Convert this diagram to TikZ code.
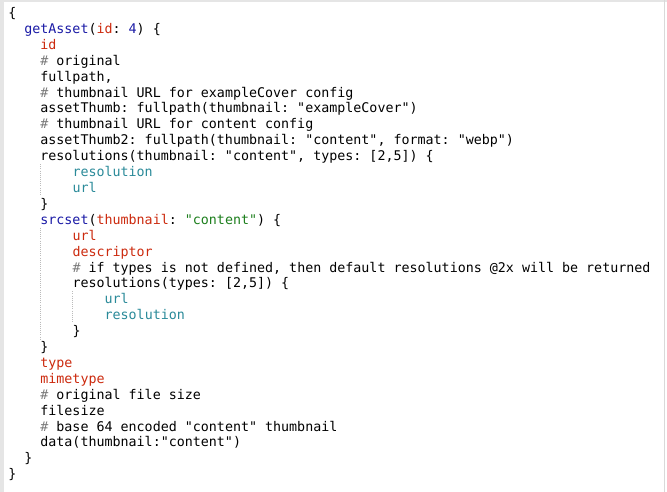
\documentclass[tikz,border=0pt]{standalone}
\usepackage{fontspec}
\setmonofont{DejaVu Sans Mono}
\definecolor{kb}{HTML}{1A1AA6}
\definecolor{kr}{HTML}{CC2A0E}
\definecolor{kt}{HTML}{2A8A99}
\definecolor{kg}{HTML}{1D7F1D}
\definecolor{kc}{HTML}{7A7A7A}
\definecolor{guide}{HTML}{BBBBBB}
\newcommand{\cB}[1]{\textcolor{kb}{#1}}
\newcommand{\cR}[1]{\textcolor{kr}{#1}}
\newcommand{\cT}[1]{\textcolor{kt}{#1}}
\newcommand{\cG}[1]{\textcolor{kg}{#1}}
\newcommand{\cH}{\textcolor{kc}{\#}}
\begin{document}
\begin{tikzpicture}[x=0.75pt,y=-0.75pt,
  code/.style={anchor=base west,inner sep=0pt,font=\ttfamily\fontsize{10pt}{12pt}\selectfont},
  gl/.style={guide,densely dotted,line width=0.6pt}]
\useasboundingbox (0,0) rectangle (667,492);
\fill[white] (0,0) rectangle (667,492);
\fill[black!10] (0,0) rectangle (4,492);
\fill[black!10] (0,0) rectangle (667,2);
\draw[black!15] (664,0) -- (664,492);
\foreach \i/\ind/\txt in {
1/0/{\{},
2/2/{\cB{getAsset}(\cR{id}: \cB{4}) \{},
3/4/{\cR{id}},
4/4/{\cH{} original},
5/4/{fullpath,},
6/4/{\cH{} thumbnail URL for exampleCover config},
7/4/{assetThumb: fullpath(thumbnail: "exampleCover")},
8/4/{\cH{} thumbnail URL for content config},
9/4/{assetThumb2: fullpath(thumbnail: "content", format: "webp")},
10/4/{resolutions(thumbnail: "content", types: [2,5]) \{},
11/8/{\cT{resolution}},
12/8/{\cT{url}},
13/4/{\}},
14/4/{\cB{srcset}(\cR{thumbnail}: \cG{"content"}) \{},
15/8/{\cR{url}},
16/8/{\cR{descriptor}},
17/8/{\cH{} if types is not defined, then default resolutions @2x will be returned},
18/8/{resolutions(types: [2,5]) \{},
19/12/{\cT{url}},
20/12/{\cT{resolution}},
21/8/{\}},
22/4/{\}},
23/4/{\cR{type}},
24/4/{\cR{mimetype}},
25/4/{\cH{} original file size},
26/4/{filesize},
27/4/{\cH{} base 64 encoded "content" thumbnail},
28/4/{data(thumbnail:"content")},
29/2/{\}},
30/0/{\}}}
  \node[code] (l\i) at ({8+8.03*\ind},{13+15.9*(\i-1)+4.6}) {\txt};
\coordinate (g1a) at (40,{13+15.9*9+8}); \coordinate (g1b) at (40,{13+15.9*12-8});
\coordinate (g2a) at (40,{13+15.9*13+8}); \coordinate (g2b) at (40,{13+15.9*21-8});
\coordinate (g3a) at (72,{13+15.9*17+8}); \coordinate (g3b) at (72,{13+15.9*20-8});
\draw[gl] (g1a) -- (g1b);
\draw[gl] (g2a) -- (g2b);
\draw[gl] (g3a) -- (g3b);
\end{tikzpicture}
\end{document}
